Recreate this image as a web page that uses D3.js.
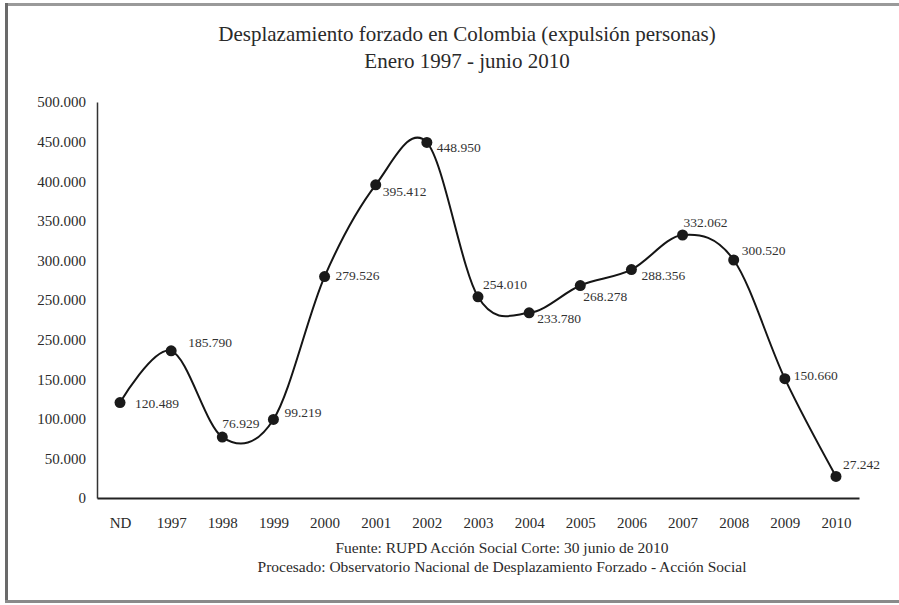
<!DOCTYPE html>
<html>
<head>
<meta charset="utf-8">
<script src="https://cdn.jsdelivr.net/npm/d3@7"></script>
<style>
    body { margin: 0; background: #fff; }
    svg text { font-family: "Liberation Serif", "DejaVu Serif", serif !important; }
</style>
</head>
<body>
<svg id="chart" width="899" height="605"></svg>
<script>
// Data
var categories = ["ND", "1997", "1998", "1999", "2000", "2001", "2002", "2003",
    "2004", "2005", "2006", "2007", "2008", "2009", "2010"];
var values = [120489, 185790, 76929, 99219, 279526, 395412, 448950, 254010,
    233780, 268278, 288356, 332062, 300520, 150660, 27242];
var valueLabels = ["120.489", "185.790", "76.929", "99.219", "279.526", "395.412",
    "448.950", "254.010", "233.780", "268.278", "288.356", "332.062", "300.520",
    "150.660", "27.242"];
var yTicks = [0, 50000, 100000, 150000, 200000, 250000, 300000, 350000, 400000, 450000, 500000];
// the original repeats "250.000" at the 200k tick
var yTickLabels = ["0", "50.000", "100.000", "150.000", "250.000", "250.000",
    "300.000", "350.000", "400.000", "450.000", "500.000"];
var titleLines = ["Desplazamiento forzado en Colombia (expulsión personas)",
    "Enero 1997 - junio 2010"];
var footerLines = ["Fuente: RUPD Acción Social Corte: 30 junio de 2010",
    "Procesado: Observatorio Nacional de Desplazamiento Forzado - Acción Social"];

// label placement relative to each point [dx, dy]
var labelOffsets = [[15, 5], [17, -4], [0, -9], [11, -2], [11, 3], [7, 11], [10, 10],
    [5, -8], [8, 10], [3, 15], [10, 10], [1, -8], [8, -5], [9, 1], [7, -7]];

var svg = d3.select("#chart");
const textColor = "#2a2a2a";

// frame
svg.append("rect").attr("x", 0).attr("y", 0).attr("width", 899).attr("height", 605).attr("fill", "#fff");
svg.append("line").attr("x1", 5).attr("x2", 899).attr("y1", 4.5).attr("y2", 4.5)
    .attr("stroke", "#9a9a9a").attr("stroke-width", 3);
svg.append("line").attr("x1", 6.5).attr("x2", 6.5).attr("y1", 3).attr("y2", 603)
    .attr("stroke", "#6a6a6a").attr("stroke-width", 3);
svg.append("line").attr("x1", 5).attr("x2", 899).attr("y1", 601.5).attr("y2", 601.5)
    .attr("stroke", "#8a8a8a").attr("stroke-width", 3);

// title
svg.selectAll(".title")
    .data(titleLines)
    .enter().append("text")
    .attr("class", "title")
    .attr("x", 467)
    .attr("y", function (d, i) { return 41 + i * 27; })
    .attr("text-anchor", "middle")
    .attr("font-size", 21)
    .attr("fill", textColor)
    .text(function (d) { return d; });

var x = d3.scalePoint()
    .domain(categories)
    .range([97, 859])
    .padding(0.45);

var y = d3.scaleLinear()
    .domain([0, 500000])
    .range([498, 102]);

// y axis
var yAxis = svg.append("g")
    .attr("transform", "translate(97,0)")
    .call(d3.axisLeft(y)
        .tickValues(yTicks)
        .tickSize(0)
        .tickPadding(11)
        .tickFormat(function (d, i) { return yTickLabels[i]; }));
yAxis.select(".domain").attr("stroke", "#333").attr("stroke-width", 1.5);
yAxis.selectAll("text").attr("font-size", 15).attr("fill", textColor);

// x axis
var xAxis = svg.append("g")
    .attr("transform", "translate(0," + y(0) + ")")
    .call(d3.axisBottom(x).tickSize(0).tickPadding(19));
xAxis.select(".domain").attr("stroke", "#222").attr("stroke-width", 2);
xAxis.selectAll("text").attr("font-size", 15).attr("fill", textColor);

// smoothed line
var line = d3.line()
    .x(function (d, i) { return x(categories[i]); })
    .y(function (d) { return y(d); })
    .curve(d3.curveCardinal.tension(0));

svg.append("path")
    .datum(values)
    .attr("d", line)
    .attr("fill", "none")
    .attr("stroke", "#151515")
    .attr("stroke-width", 2);

// points
svg.selectAll(".dot")
    .data(values)
    .enter().append("circle")
    .attr("class", "dot")
    .attr("cx", function (d, i) { return x(categories[i]); })
    .attr("cy", function (d) { return y(d); })
    .attr("r", 5.5)
    .attr("fill", "#1a1a1a");

// value labels
svg.selectAll(".vlabel")
    .data(values)
    .enter().append("text")
    .attr("class", "vlabel")
    .attr("x", function (d, i) { return x(categories[i]) + labelOffsets[i][0]; })
    .attr("y", function (d, i) { return y(d) + labelOffsets[i][1]; })
    .attr("font-size", 13.5)
    .attr("fill", "#333")
    .text(function (d, i) { return valueLabels[i]; });

// footer
svg.selectAll(".footer")
    .data(footerLines)
    .enter().append("text")
    .attr("class", "footer")
    .attr("x", 502)
    .attr("y", function (d, i) { return 553 + i * 19; })
    .attr("text-anchor", "middle")
    .attr("font-size", 15.5)
    .attr("fill", textColor)
    .text(function (d) { return d; });
</script>
</body>
</html>
